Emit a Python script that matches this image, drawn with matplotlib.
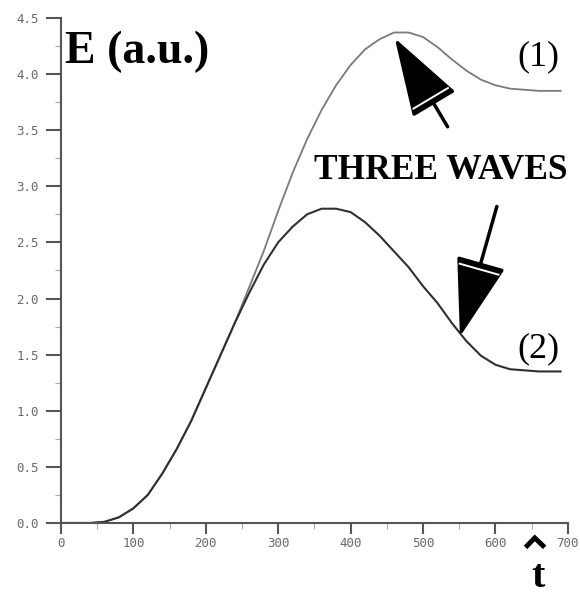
import numpy as np
import matplotlib.pyplot as plt
from matplotlib.lines import Line2D
from matplotlib.ticker import MultipleLocator
from matplotlib.transforms import IdentityTransform

# time axis and the two energy curves
t = [0, 40, 60, 80, 100, 120, 140, 160, 180, 200, 220, 240, 260, 280, 300,
     320, 340, 360, 380, 400, 420, 440, 460, 480, 500, 520, 540, 560, 580,
     600, 620, 640, 660, 690]
e1 = [0, 0, 0.01, 0.05, 0.13, 0.25, 0.44, 0.66, 0.91, 1.2, 1.49, 1.78, 2.1,
      2.42, 2.78, 3.12, 3.42, 3.68, 3.9, 4.08, 4.22, 4.31, 4.37, 4.37, 4.33,
      4.24, 4.13, 4.03, 3.95, 3.9, 3.87, 3.86, 3.85, 3.85]
e2 = [0, 0, 0.01, 0.05, 0.13, 0.25, 0.44, 0.66, 0.91, 1.2, 1.49, 1.78, 2.05,
      2.3, 2.5, 2.64, 2.75, 2.8, 2.8, 2.77, 2.68, 2.56, 2.42, 2.28, 2.11,
      1.96, 1.78, 1.62, 1.49, 1.41, 1.37, 1.36, 1.35, 1.35]

x_ticks = [0, 100, 200, 300, 400, 500, 600, 700]
y_ticks = [0.0, 0.5, 1.0, 1.5, 2.0, 2.5, 3.0, 3.5, 4.0, 4.5]

# annotation anchors (data coords): tail -> tip
arrow1 = ((534, 3.53), (461, 4.32))
arrow2 = ((602, 2.82), (551, 1.66))

HEAD_LEN, HEAD_W = 50, 16   # points

fig = plt.figure(figsize=(5.8, 5.97), dpi=100)
ax = fig.add_axes([0.105, 0.124, 0.874, 0.846])

ax.plot(t, e1, color="#7a7a7a", lw=1.3)
ax.plot(t, e2, color="#303030", lw=1.5)

ax.set_xlim(0, 700)
ax.set_ylim(0, 4.5)
for s in ["top", "right"]:
    ax.spines[s].set_visible(False)
for s in ["left", "bottom"]:
    ax.spines[s].set_color("#555555")
    ax.spines[s].set_linewidth(1.5)

ax.set_xticks(x_ticks)
ax.set_yticks(y_ticks)
ax.set_xticklabels([str(v) for v in x_ticks])
ax.set_yticklabels([f"{v:.1f}" for v in y_ticks])
ax.xaxis.set_minor_locator(MultipleLocator(50))
ax.yaxis.set_minor_locator(MultipleLocator(0.25))
ax.tick_params(which="major", width=1.5, color="#555555",
               labelcolor="#6a6a6a", labelsize=9)
ax.tick_params(axis="x", which="major", length=8, pad=2)
ax.tick_params(axis="y", which="major", length=11, pad=5)
ax.tick_params(which="minor", length=4, width=0.8, color="#aaaaaa")
for lab in ax.get_xticklabels() + ax.get_yticklabels():
    lab.set_family("DejaVu Sans Mono")

serif = "Liberation Serif"
ax.text(5, 4.2, "E (a.u.)", family=serif, weight="bold", fontsize=33,
        ha="left", va="center")
ax.text(659, 4.15, "(1)", family=serif, fontsize=26, ha="center", va="center")
ax.text(660, 1.55, "(2)", family=serif, fontsize=26, ha="center", va="center")
ax.text(524, 3.14, "THREE WAVES", family=serif, weight="bold", fontsize=25.5,
        ha="center", va="center")

# big filled arrows, with the thin white stripe near the base of each head
k = fig.dpi / 72
theta = np.arctan2(HEAD_W, HEAD_LEN)
for tail, tip in (arrow1, arrow2):
    ax.annotate("", xy=tip, xytext=tail,
                arrowprops=dict(arrowstyle=f"-|>,head_length={HEAD_LEN},head_width={HEAD_W}",
                                mutation_scale=1, lw=2.5, color="black",
                                shrinkA=0, shrinkB=0))
    p0 = ax.transData.transform(tail)
    p1 = ax.transData.transform(tip)
    u = (p1 - p0) / np.hypot(*(p1 - p0))
    n = np.array([-u[1], u[0]])
    L = HEAD_LEN * k * np.cos(theta)
    w = HEAD_LEN * k * np.sin(theta)
    c = p1 - u * (L + 4)
    a = c + n * w * 0.95
    b = c - n * w * 0.95
    fig.add_artist(Line2D([a[0], b[0]], [a[1], b[1]], color="white", lw=1.4,
                          transform=IdentityTransform()))

# small caret mark above the t label
fig.add_artist(Line2D([0.909, 0.922, 0.936], [0.086, 0.099, 0.086],
                      color="black", lw=3.5, solid_joinstyle="miter",
                      transform=fig.transFigure))
fig.text(0.928, 0.032, "t", family=serif, weight="bold", fontsize=29,
         ha="center", va="center")

fig.savefig("out.png", dpi=100)
